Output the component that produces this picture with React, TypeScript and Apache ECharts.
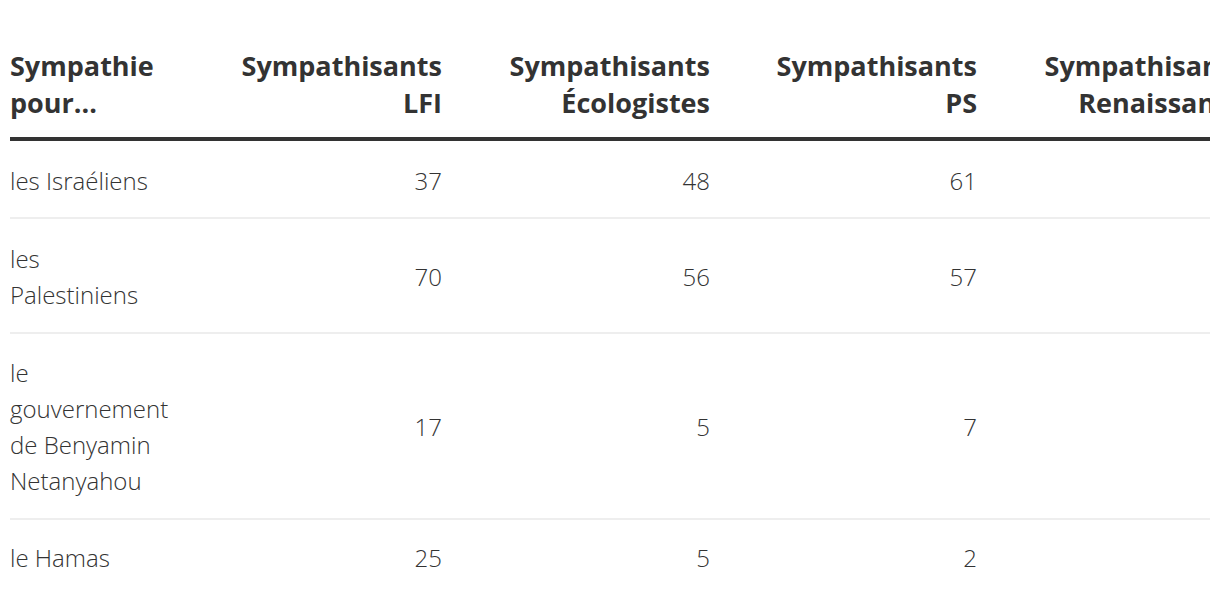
import React, { useEffect, useRef } from "react";
import * as echarts from "echarts";

const headerLabels: string[][] = [
  ["Sympathie", "pour..."],
  ["Sympathisants", "LFI"],
  ["Sympathisants", "Écologistes"],
  ["Sympathisants", "PS"],
  ["Sympathisants", "Renaissance"],
];
const rowLabels: string[][] = [
  ["les Israéliens"],
  ["les", "Palestiniens"],
  ["le", "gouvernement", "de Benyamin", "Netanyahou"],
  ["le Hamas"],
];
const lfiValues: number[] = [37, 70, 17, 25];
const ecologistesValues: number[] = [48, 56, 5, 5];
const psValues: number[] = [61, 57, 7, 2];
const renaissanceValues: (number | null)[] = [null, null, null, null];

const TEXT = "#333333";
const FONT = "'Open Sans', 'Noto Sans', sans-serif";

export default function App() {
  const ref = useRef<HTMLDivElement>(null);
  useEffect(() => {
    document.body.style.margin = "0";
    const chart = echarts.init(ref.current!, null, { renderer: "svg" });
    const colRight = [442, 710, 977, 1245];
    const leftX = 10;
    const lineH = 36;
    const headerY = [65, 102];
    const rowCenters = [180, 276, 426, 557];
    const separators = [218, 333, 519];
    const columns = [lfiValues, ecologistesValues, psValues, renaissanceValues];
    const els: any[] = [];
    const headFont = { fontFamily: FONT, fontWeight: 700, fontSize: 27, fill: TEXT };
    headerLabels.forEach((lines, ci) => {
      lines.forEach((t, li) => {
        els.push({
          type: "text",
          x: ci === 0 ? leftX : colRight[ci - 1],
          y: headerY[li],
          style: { ...headFont, text: t, textAlign: ci === 0 ? "left" : "right", textVerticalAlign: "middle" },
        });
      });
    });
    els.push({ type: "rect", shape: { x: leftX, y: 137, width: 1300, height: 4 }, style: { fill: TEXT } });
    separators.forEach((y) => {
      els.push({ type: "rect", shape: { x: leftX, y: y - 1, width: 1300, height: 2 }, style: { fill: "#eeeeee" } });
    });
    const bodyFont = { fontFamily: FONT, fontWeight: 300, fontSize: 24, fill: TEXT };
    rowLabels.forEach((lines, ri) => {
      const c = rowCenters[ri];
      const start = c - ((lines.length - 1) * lineH) / 2;
      lines.forEach((t, li) => {
        els.push({
          type: "text",
          x: leftX,
          y: start + li * lineH,
          style: { ...bodyFont, text: t, textAlign: "left", textVerticalAlign: "middle" },
        });
      });
      columns.forEach((vals, ci) => {
        const v = vals[ri];
        if (v === null || v === undefined) return;
        els.push({
          type: "text",
          x: colRight[ci],
          y: c,
          style: { ...bodyFont, text: String(v), textAlign: "right", textVerticalAlign: "middle" },
        });
      });
    });
    chart.setOption({ animation: false, backgroundColor: "#ffffff", graphic: { elements: els } });
    return () => chart.dispose();
  }, []);
  return <div ref={ref} style={{ width: 1210, height: 606 }} />;
}
